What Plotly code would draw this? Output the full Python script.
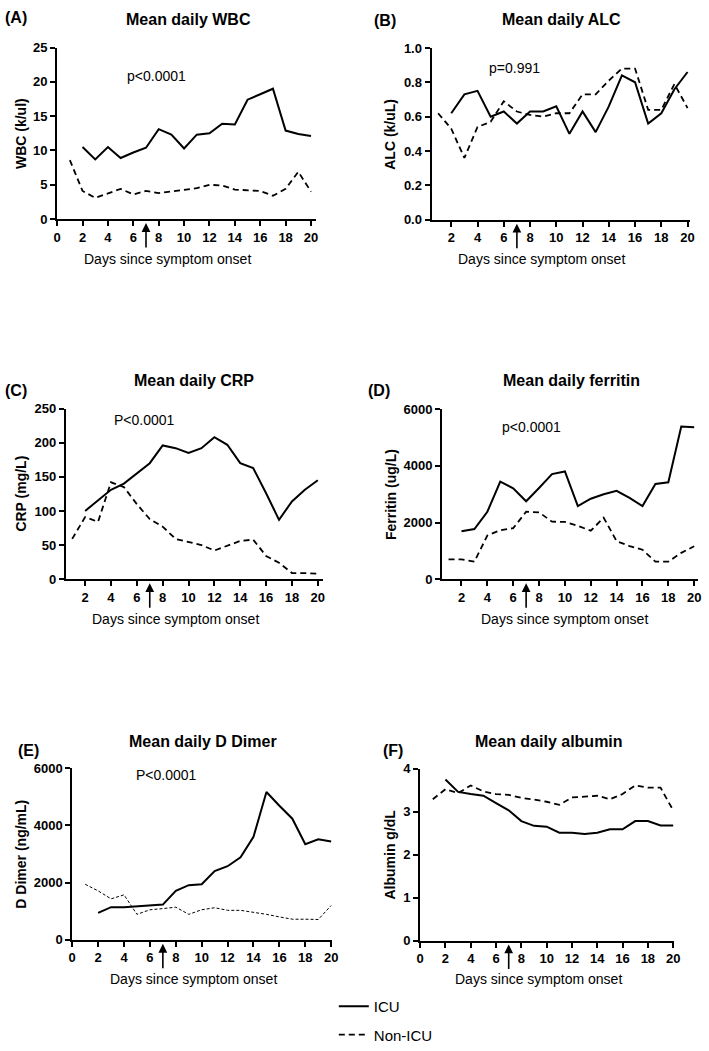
import plotly.graph_objects as go

# ---------------- data ----------------
DAYS_NON = list(range(1, 21))
DAYS_ICU = list(range(2, 21))

wbc_icu = [10.5, 8.7, 10.5, 8.9, 9.7, 10.4, 13.1, 12.3, 10.3, 12.3, 12.5, 13.9, 13.8, 17.4, 18.2, 19.0, 12.9, 12.4, 12.1]
wbc_non = [8.6, 4.1, 3.1, 3.8, 4.4, 3.6, 4.1, 3.8, 4.0, 4.3, 4.5, 5.0, 4.9, 4.3, 4.2, 4.1, 3.4, 4.4, 6.9, 4.0]

alc_icu = [0.62, 0.73, 0.75, 0.60, 0.63, 0.56, 0.63, 0.63, 0.66, 0.50, 0.63, 0.51, 0.66, 0.84, 0.80, 0.56, 0.62, 0.76, 0.86]
alc_non = [0.62, 0.53, 0.36, 0.54, 0.57, 0.69, 0.63, 0.61, 0.60, 0.62, 0.62, 0.73, 0.73, 0.81, 0.88, 0.88, 0.64, 0.64, 0.79, 0.65]

crp_icu = [100, 116, 131, 140, 155, 170, 196, 192, 185, 192, 208, 197, 170, 163, 126, 87, 114, 131, 145]
crp_non = [59, 91, 84, 142, 135, 110, 88, 77, 59, 55, 50, 42, 49, 56, 58, 34, 24, 9, 9, 8]

ferr_icu = [1690, 1770, 2380, 3440, 3210, 2750, 3220, 3710, 3800, 2580, 2840, 3000, 3120, 2870, 2580, 3360, 3420, 5390, 5360]
ferr_non = [700, 700, 620, 1540, 1730, 1800, 2380, 2360, 2030, 2020, 1880, 1710, 2170, 1340, 1170, 1040, 620, 620, 930, 1160]

dd_icu = [940, 1140, 1140, 1170, 1200, 1230, 1710, 1910, 1940, 2400, 2570, 2880, 3600, 5160, 4680, 4230, 3340, 3510, 3430]
dd_non = [1940, 1710, 1430, 1570, 890, 1050, 1090, 1140, 890, 1050, 1120, 1030, 1030, 970, 890, 800, 720, 720, 710, 1200]

alb_icu = [3.75, 3.46, 3.41, 3.37, 3.20, 3.03, 2.78, 2.67, 2.65, 2.51, 2.51, 2.48, 2.51, 2.59, 2.59, 2.78, 2.78, 2.68, 2.68]
alb_non = [3.29, 3.52, 3.43, 3.61, 3.47, 3.41, 3.39, 3.32, 3.28, 3.23, 3.16, 3.33, 3.35, 3.37, 3.29, 3.41, 3.61, 3.56, 3.56, 3.03]

LABELS = ["(A)", "(B)", "(C)", "(D)", "(E)", "(F)"]
TITLES = ["Mean daily WBC", "Mean daily ALC", "Mean daily CRP", "Mean daily ferritin",
          "Mean daily D Dimer", "Mean daily albumin"]
YTITLES = ["WBC (k/ul)", "ALC (k/uL)", "CRP (mg/L)", "Ferritin (ug/L)", "D Dimer (ng/mL)", "Albumin g/dL"]
PTEXT = ["p<0.0001", "p=0.991", "P<0.0001", "p<0.0001", "P<0.0001", "p<0.0001"]
XTITLE = "Days since symptom onset"
ARROW_DAY = 7

ICU_SERIES = [wbc_icu, alc_icu, crp_icu, ferr_icu, dd_icu, alb_icu]
NON_SERIES = [wbc_non, alc_non, crp_non, ferr_non, dd_non, alb_non]

# ---------------- layout config ----------------
W, H = 709, 1051
FONT = "Arial, 'Liberation Sans', sans-serif"

panels = [
    dict(xpx=(54, 317), ypx=(41.3, 216), xr=[0, 20.4], xt=list(range(0, 21, 2)), yt=[0, 5, 10, 15, 20, 25], fmt="",
         ppos=(7.8, 20.9), lab=(12, 11), ttl=(187, 13), ytx=18, xtt=(166, 257)),
    dict(xpx=(434.3, 697), ypx=(41.7, 216.7), xr=[0.5, 20.2], xt=list(range(2, 21, 2)), yt=[0, 0.2, 0.4, 0.6, 0.8, 1.0], fmt=".1f",
         ppos=(6.8, 0.884), lab=(387, 14), ttl=(566, 13), ytx=392, xtt=(546, 257)),
    dict(xpx=(62.7, 324), ypx=(409, 582.7), xr=[0.5, 20.4], xt=list(range(2, 21, 2)), yt=[0, 50, 100, 150, 200, 250], fmt="",
         ppos=(6.6, 234), lab=(12, 391), ttl=(193, 380), ytx=17, xtt=(174, 623)),
    dict(xpx=(445, 705), ypx=(409.6, 582.7), xr=[0.5, 20.3], xt=list(range(2, 21, 2)), yt=[0, 2000, 4000, 6000], fmt="",
         ppos=(7.4, 5360), lab=(381, 391), ttl=(576, 380), ytx=393, xtt=(569, 623)),
    dict(xpx=(69.3, 333), ypx=(775, 950), xr=[0, 20.05], xt=list(range(0, 21, 2)), yt=[0, 2000, 4000, 6000], fmt="",
         ppos=(7.3, 5760), lab=(25, 757), ttl=(202, 748), ytx=17, xtt=(192, 990)),
    dict(xpx=(422.7, 681), ypx=(775.7, 950.7), xr=[0, 20.1], xt=list(range(0, 21, 2)), yt=[0, 1, 2, 3, 4], fmt="",
         ppos=(7.45, 4.04), lab=(395, 757), ttl=(554, 748), ytx=392, xtt=(543, 990)),
]

fig = go.Figure()
annotations = []
layout_axes = {}


def paper_text(xpx, ypx, text, size, bold=False, angle=0):
    return dict(x=xpx / W, y=1 - ypx / H, xref="paper", yref="paper", text=text,
                showarrow=False, xanchor="center", yanchor="middle", textangle=angle,
                font=dict(family=FONT, size=size, color="black", weight="bold" if bold else "normal"))


for i, p in enumerate(panels):
    n = i + 1
    xa = "x" if n == 1 else f"x{n}"
    ya = "y" if n == 1 else f"y{n}"
    thin = (i == 4)
    fig.add_trace(go.Scatter(
        x=DAYS_ICU, y=ICU_SERIES[i], mode="lines", xaxis=xa, yaxis=ya,
        line=dict(color="black", width=2), name="ICU", legendgroup="icu",
        showlegend=(i == 0), hoverinfo="skip"))
    fig.add_trace(go.Scatter(
        x=DAYS_NON, y=NON_SERIES[i], mode="lines", xaxis=xa, yaxis=ya,
        line=dict(color="black", width=1 if thin else 1.8, dash="3px,2px" if thin else "6px,4px"),
        name="Non-ICU", legendgroup="non", showlegend=(i == 0), hoverinfo="skip"))

    x0, x1 = p["xpx"]
    yt_, yb_ = p["ypx"]
    layout_axes["xaxis" if n == 1 else f"xaxis{n}"] = dict(
        domain=[x0 / W, x1 / W], anchor=ya, range=p["xr"], tickvals=p["xt"],
        showline=True, linecolor="black", linewidth=2, ticks="outside", ticklen=5, tickwidth=2,
        tickcolor="black", showgrid=False, zeroline=False, fixedrange=True,
        tickfont=dict(family=FONT, size=13, color="black", weight="bold"))
    layout_axes["yaxis" if n == 1 else f"yaxis{n}"] = dict(
        domain=[1 - yb_ / H, 1 - yt_ / H], anchor=xa, range=[0, p["yt"][-1]], tickvals=p["yt"],
        tickformat=p["fmt"], showline=True, linecolor="black", linewidth=2, ticks="outside",
        ticklen=5, tickwidth=2, tickcolor="black", showgrid=False, zeroline=False, fixedrange=True,
        tickfont=dict(family=FONT, size=13, color="black", weight="bold"))

    # p-value text
    annotations.append(dict(x=p["ppos"][0], y=p["ppos"][1], xref=xa, yref=ya, text=PTEXT[i],
                            showarrow=False, xanchor="center", yanchor="middle",
                            font=dict(family=FONT, size=14, color="black")))
    # arrow at day 7
    annotations.append(dict(x=ARROW_DAY, y=0, xref=xa, yref=ya, text="", showarrow=True,
                            ax=0, ay=30, standoff=4, arrowhead=2, arrowsize=1.1, arrowwidth=1.6,
                            arrowcolor="black"))
    annotations.append(paper_text(p["lab"][0], p["lab"][1], LABELS[i], 16, bold=True))
    annotations.append(paper_text(p["ttl"][0], p["ttl"][1], TITLES[i], 16, bold=True))
    annotations.append(paper_text(p["ytx"], (yt_ + yb_) / 2, YTITLES[i], 14, bold=True, angle=-90))
    annotations.append(paper_text(p["xtt"][0], p["xtt"][1], XTITLE, 14))

fig.update_layout(
    width=W, height=H, margin=dict(l=0, r=0, t=0, b=0),
    paper_bgcolor="white", plot_bgcolor="white",
    showlegend=True, hovermode=False,
    legend=dict(x=335 / W, y=1 - 1001 / H, xanchor="left", yanchor="top",
                font=dict(family=FONT, size=15, color="black"), tracegroupgap=6,
                bgcolor="rgba(0,0,0,0)", itemwidth=30, itemclick=False, itemdoubleclick=False),
    annotations=annotations,
    **layout_axes,
)

fig.write_html("out.html", config={"displayModeBar": False, "staticPlot": True},
               post_script="document.body.style.margin='0';document.body.style.overflow='hidden';")
